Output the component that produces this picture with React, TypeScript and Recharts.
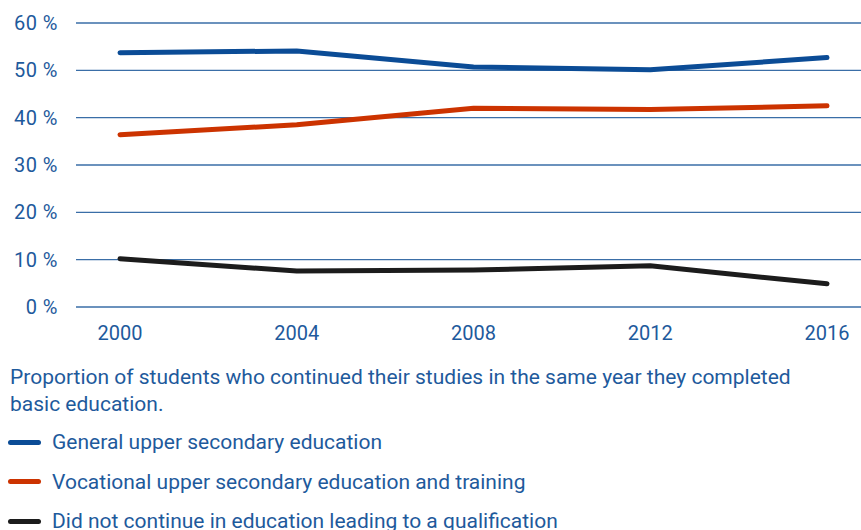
import { LineChart, Line, XAxis, YAxis, CartesianGrid } from "recharts";

const years = [2000, 2004, 2008, 2012, 2016];
const general = [53.7, 54.1, 50.7, 50.1, 52.7];
const vocational = [36.4, 38.5, 42.0, 41.7, 42.5];
const notContinued = [10.2, 7.6, 7.8, 8.7, 4.9];
const yTicks = [0, 10, 20, 30, 40, 50, 60];

const seriesNames = [
  "General upper secondary education",
  "Vocational upper secondary education and training",
  "Did not continue in education leading to a qualification",
];
const seriesColors = ["#0b4c96", "#cc3300", "#1c1c1c"];

const data = years.map((year, i) => ({
  year,
  general: general[i],
  vocational: vocational[i],
  notContinued: notContinued[i],
}));

const textColor = "#1e5a9c";
const font = "Roboto, 'Noto Sans', sans-serif";

export default function App() {
  return (
    <div
      style={{
        position: "absolute",
        left: 0,
        top: 0,
        width: 861,
        height: 530,
        background: "#fff",
        fontFamily: font,
        overflow: "hidden",
      }}
    >
      <LineChart
        width={861}
        height={350}
        data={data}
        margin={{ top: 23, right: 0, bottom: 0, left: 0 }}
      >
        <CartesianGrid vertical={false} stroke="#3a6ea7" strokeWidth={1.4} />
        <XAxis
          dataKey="year"
          type="number"
          domain={[2000, 2016]}
          ticks={years}
          padding={{ left: 44, right: 34 }}
          axisLine={false}
          tickLine={false}
          tickMargin={13}
          height={43}
          tick={{ fill: textColor, fontSize: 20, fontFamily: font }}
        />
        <YAxis
          domain={[0, 60]}
          ticks={yTicks}
          width={76}
          axisLine={false}
          tickLine={false}
          tickMargin={12}
          tickFormatter={(v) => `${v} %`}
          tick={{ fill: textColor, fontSize: 20, fontFamily: font, letterSpacing: 0.5 }}
        />
        <Line
          dataKey="general"
          stroke={seriesColors[0]}
          strokeWidth={5}
          strokeLinecap="round"
          dot={false}
          isAnimationActive={false}
        />
        <Line
          dataKey="vocational"
          stroke={seriesColors[1]}
          strokeWidth={5}
          strokeLinecap="round"
          dot={false}
          isAnimationActive={false}
        />
        <Line
          dataKey="notContinued"
          stroke={seriesColors[2]}
          strokeWidth={5}
          strokeLinecap="round"
          dot={false}
          isAnimationActive={false}
        />
      </LineChart>
      <div
        style={{
          position: "absolute",
          left: 10,
          top: 364,
          width: 820,
          color: textColor,
          fontSize: 21,
          lineHeight: "27px",
        }}
      >
        Proportion of students who continued their studies in the same year they completed
        basic education.
      </div>
      {seriesNames.map((name, i) => (
        <div
          key={name}
          style={{
            position: "absolute",
            left: 8,
            top: 428 + i * 39.5,
            height: 28,
            display: "flex",
            alignItems: "center",
            color: textColor,
            fontSize: 21,
            whiteSpace: "nowrap",
          }}
        >
          <span
            style={{
              display: "inline-block",
              width: 33,
              height: 5,
              borderRadius: 3,
              background: seriesColors[i],
              marginRight: 11,
            }}
          />
          {name}
        </div>
      ))}
    </div>
  );
}
